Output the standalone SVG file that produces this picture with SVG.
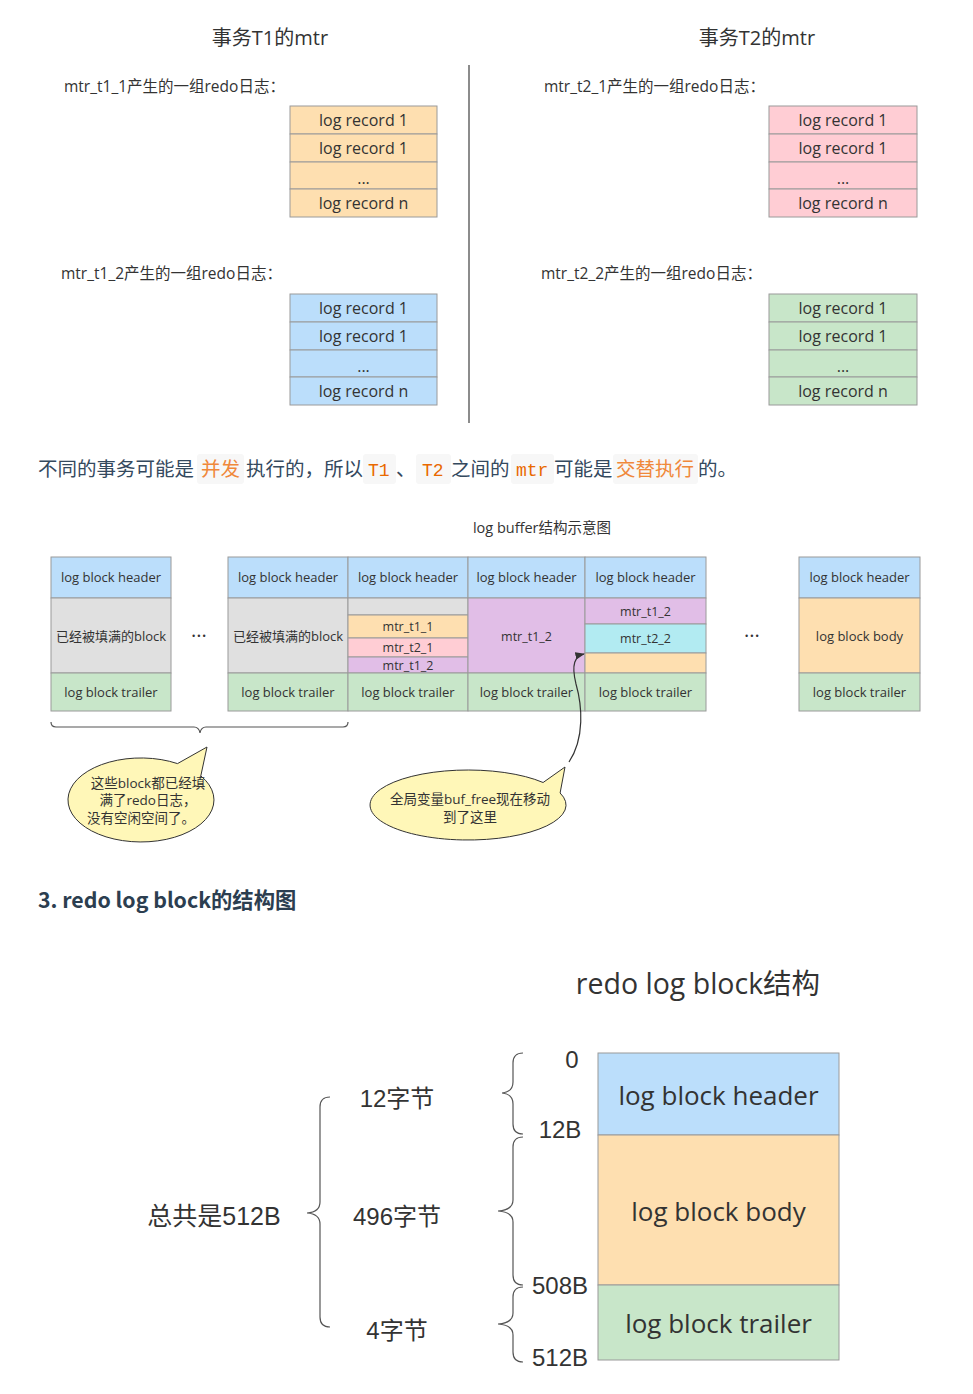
<svg xmlns="http://www.w3.org/2000/svg" width="973" height="1394" viewBox="0 0 973 1394">
<style>
.f{font-family:"Open Sans","Noto Sans CJK SC",sans-serif;fill:#333}
.h{font-family:"Liberation Sans","Noto Sans CJK SC",sans-serif;fill:#333}
.c{text-anchor:middle}
.s{stroke:#9a9a9a;stroke-width:1}
.or{fill:#fedfb0}.pk{fill:#ffcdd4}.bl{fill:#bbdefb}.gr{fill:#c8e6c9}.gy{fill:#e0e0e0}.pu{fill:#e1bee7}.cy{fill:#b2ebf2}
.rec{font-size:16px}
.blk{font-size:13px}
.br{fill:none;stroke:#555;stroke-width:1.2}
.code{fill:#f7f7f7}
.cn{font-family:"Noto Sans CJK SC",sans-serif;font-size:19.5px;fill:#34495e}
.mono{font-family:"Liberation Mono","DejaVu Sans Mono",monospace;font-size:18px;fill:#e96900}
.oc{fill:#f0883a}
.sub{font-size:15.5px}
</style>
<defs>
<marker id="ah" viewBox="0 0 10 10" refX="9" refY="5" markerWidth="8" markerHeight="8" orient="auto">
<path d="M0,1 L10,5 L0,9 Z" fill="#333"/>
</marker>
</defs>
<rect width="973" height="1394" fill="#fff"/>

<text class="f c" x="270" y="45" font-size="20">事务T1的mtr</text>
<text class="f c" x="757" y="45" font-size="20">事务T2的mtr</text>
<line x1="469" y1="65" x2="469" y2="423" stroke="#666" stroke-width="1.5"/>

<g id="t1_1">
<text class="f sub" x="64" y="92">mtr_t1_1产生的一组redo日志：</text>
<rect class="or s" x="290" y="106" width="147" height="28"/>
<rect class="or s" x="290" y="134" width="147" height="28"/>
<rect class="or s" x="290" y="162" width="147" height="27"/>
<rect class="or s" x="290" y="189" width="147" height="28"/>
<text class="f c rec" x="363.5" y="126">log record 1</text>
<text class="f c rec" x="363.5" y="154">log record 1</text>
<text class="f c rec" x="363.5" y="184">...</text>
<text class="f c rec" x="363.5" y="209">log record n</text>
</g>
<g id="t1_2">
<text class="f sub" x="61" y="279">mtr_t1_2产生的一组redo日志：</text>
<rect class="bl s" x="290" y="294" width="147" height="28"/>
<rect class="bl s" x="290" y="322" width="147" height="28"/>
<rect class="bl s" x="290" y="350" width="147" height="27"/>
<rect class="bl s" x="290" y="377" width="147" height="28"/>
<text class="f c rec" x="363.5" y="314">log record 1</text>
<text class="f c rec" x="363.5" y="342">log record 1</text>
<text class="f c rec" x="363.5" y="372">...</text>
<text class="f c rec" x="363.5" y="397">log record n</text>
</g>
<g id="t2_1">
<text class="f sub" x="544" y="92">mtr_t2_1产生的一组redo日志：</text>
<rect class="pk s" x="769" y="106" width="148" height="28"/>
<rect class="pk s" x="769" y="134" width="148" height="28"/>
<rect class="pk s" x="769" y="162" width="148" height="27"/>
<rect class="pk s" x="769" y="189" width="148" height="28"/>
<text class="f c rec" x="843" y="126">log record 1</text>
<text class="f c rec" x="843" y="154">log record 1</text>
<text class="f c rec" x="843" y="184">...</text>
<text class="f c rec" x="843" y="209">log record n</text>
</g>
<g id="t2_2">
<text class="f sub" x="541" y="279">mtr_t2_2产生的一组redo日志：</text>
<rect class="gr s" x="769" y="294" width="148" height="28"/>
<rect class="gr s" x="769" y="322" width="148" height="28"/>
<rect class="gr s" x="769" y="350" width="148" height="27"/>
<rect class="gr s" x="769" y="377" width="148" height="28"/>
<text class="f c rec" x="843" y="314">log record 1</text>
<text class="f c rec" x="843" y="342">log record 1</text>
<text class="f c rec" x="843" y="372">...</text>
<text class="f c rec" x="843" y="397">log record n</text>
</g>

<g id="sentence">
<rect class="code" x="197" y="454" width="47" height="30" rx="3"/>
<rect class="code" x="363" y="454" width="33" height="30" rx="3"/>
<rect class="code" x="416" y="454" width="35" height="30" rx="3"/>
<rect class="code" x="511" y="454" width="43" height="30" rx="3"/>
<rect class="code" x="613" y="454" width="85" height="30" rx="3"/>
<text class="cn" x="38" y="476">不同的事务可能是</text>
<text class="cn oc" x="201" y="476">并发</text>
<text class="cn" x="246" y="476">执行的，所以</text>
<text class="mono" x="368" y="476">T1</text>
<text class="cn" x="396" y="476">、</text>
<text class="mono" x="422" y="476">T2</text>
<text class="cn" x="451" y="476">之间的</text>
<text class="mono" x="516" y="476">mtr</text>
<text class="cn" x="554" y="476">可能是</text>
<text class="cn oc" x="616" y="476">交替执行</text>
<text class="cn" x="698" y="476">的。</text>
</g>

<text class="f c" x="542" y="533" font-size="14.5">log buffer结构示意图</text>

<g id="block1">
<rect class="bl s" x="51" y="557" width="120" height="41"/>
<rect class="gy s" x="51" y="598" width="120" height="75"/>
<rect class="gr s" x="51" y="673" width="120" height="38"/>
<text class="f c blk" x="111" y="582">log block header</text>
<text class="f c blk" x="111" y="641">已经被填满的block</text>
<text class="f c blk" x="111" y="697">log block trailer</text>
</g>
<text class="f c" x="199" y="643" font-size="20">···</text>
<g id="block2">
<rect class="bl s" x="228" y="557" width="120" height="41"/>
<rect class="gy s" x="228" y="598" width="120" height="75"/>
<rect class="gr s" x="228" y="673" width="120" height="38"/>
<text class="f c blk" x="288" y="582">log block header</text>
<text class="f c blk" x="288" y="641">已经被填满的block</text>
<text class="f c blk" x="288" y="697">log block trailer</text>
</g>
<g id="block3">
<rect class="bl s" x="348" y="557" width="120" height="41"/>
<rect class="gy s" x="348" y="598" width="120" height="17"/>
<rect class="or s" x="348" y="615" width="120" height="23"/>
<rect class="pk s" x="348" y="638" width="120" height="19"/>
<rect class="pu s" x="348" y="657" width="120" height="16"/>
<rect class="gr s" x="348" y="673" width="120" height="38"/>
<text class="f c blk" x="408" y="582">log block header</text>
<text class="f c" x="408" y="631" font-size="12.5">mtr_t1_1</text>
<text class="f c" x="408" y="652" font-size="12.5">mtr_t2_1</text>
<text class="f c" x="408" y="669.5" font-size="12.5">mtr_t1_2</text>
<text class="f c blk" x="408" y="697">log block trailer</text>
</g>
<g id="block4">
<rect class="bl s" x="468" y="557" width="117" height="41"/>
<rect class="pu s" x="468" y="598" width="117" height="75"/>
<rect class="gr s" x="468" y="673" width="117" height="38"/>
<text class="f c blk" x="526.5" y="582">log block header</text>
<text class="f c" x="526.5" y="641" font-size="12.5">mtr_t1_2</text>
<text class="f c blk" x="526.5" y="697">log block trailer</text>
</g>
<g id="block5">
<rect class="bl s" x="585" y="557" width="121" height="41"/>
<rect class="pu s" x="585" y="598" width="121" height="26"/>
<rect class="cy s" x="585" y="624" width="121" height="29"/>
<rect class="or s" x="585" y="653" width="121" height="20"/>
<rect class="gr s" x="585" y="673" width="121" height="38"/>
<text class="f c blk" x="645.5" y="582">log block header</text>
<text class="f c" x="645.5" y="615.5" font-size="12.5">mtr_t1_2</text>
<text class="f c" x="645.5" y="643" font-size="12.5">mtr_t2_2</text>
<text class="f c blk" x="645.5" y="697">log block trailer</text>
</g>
<text class="f c" x="752" y="643" font-size="20">···</text>
<g id="block6">
<rect class="bl s" x="799" y="557" width="121" height="41"/>
<rect class="or s" x="799" y="598" width="121" height="75"/>
<rect class="gr s" x="799" y="673" width="121" height="38"/>
<text class="f c blk" x="859.5" y="582">log block header</text>
<text class="f c blk" x="859.5" y="641">log block body</text>
<text class="f c blk" x="859.5" y="697">log block trailer</text>
</g>

<g id="callout1">
<path d="M177.5,763.6 L207,747 L200.8,775.9 A73,42 0 1 1 177.5,763.6 Z" fill="#fff7b8" stroke="#333" stroke-width="1"/>
<text class="f c" x="148" y="788" font-size="13.5">这些block都已经填</text>
<text class="f c" x="148" y="805" font-size="13.5">满了redo日志，</text>
<text class="f c" x="141" y="823" font-size="13.5">没有空闲空间了。</text>
</g>
<g id="callout2">
<path d="M543.1,782.5 L565,767 L560.1,793 A98,35 0 1 1 543.1,782.5 Z" fill="#fff7b8" stroke="#333" stroke-width="1"/>
<text class="f c" x="470" y="804" font-size="13.5">全局变量buf_free现在移动</text>
<text class="f c" x="470" y="822" font-size="13.5">到了这里</text>
</g>

<g id="connectors">
<path class="br" d="M51,722 Q51,727 56,727 L194,727 Q199,727 200,733 Q201,727 206,727 L343,727 Q348,727 348,722"/>
<path d="M569,762 C585,738 582,705 576,684 C571,664 575,656 584,654" fill="none" stroke="#333" stroke-width="1.2" marker-end="url(#ah)"/>
<path class="br" d="M523,1053 Q513,1053 513,1063 L513,1082 Q513,1092 502,1093 Q513,1094 513,1104 L513,1124 Q513,1134 523,1134"/>
<path class="br" d="M523,1137 Q513,1137 513,1147 L513,1200 Q513,1210 498,1211 Q513,1212 513,1222 L513,1275 Q513,1285 523,1285"/>
<path class="br" d="M523,1287 Q513,1287 513,1297 L513,1313 Q513,1323 498,1324 Q513,1325 513,1335 L513,1352 Q513,1362 523,1362"/>
<path class="br" d="M330,1097 Q320,1097 320,1107 L320,1202 Q320,1212 307,1213 Q320,1214 320,1224 L320,1317 Q320,1327 330,1327"/>
</g>

<text x="38" y="908" font-family="Noto Sans CJK SC, sans-serif" font-size="21.3" font-weight="bold" fill="#2c3e50">3. redo log block的结构图</text>

<text class="f c" x="698" y="994" font-size="28.5">redo log block结构</text>

<g id="bigblock">
<rect class="bl s" x="598" y="1053" width="241" height="82" stroke-width="1.5"/>
<rect class="or s" x="598" y="1135" width="241" height="150" stroke-width="1.5"/>
<rect class="gr s" x="598" y="1285" width="241" height="75" stroke-width="1.5"/>
<text class="f c" x="718.5" y="1105" font-size="26">log block header</text>
<text class="f c" x="718.5" y="1221" font-size="26">log block body</text>
<text class="f c" x="718.5" y="1333" font-size="26">log block trailer</text>
</g>

<g id="offsets">
<text class="h c" x="572" y="1068" font-size="24">0</text>
<text class="h c" x="560" y="1138" font-size="24">12B</text>
<text class="h c" x="560" y="1294" font-size="24">508B</text>
<text class="h c" x="560" y="1366" font-size="24">512B</text>
</g>
<g id="sizes">
<text class="h c" x="397" y="1107" font-size="24">12字节</text>
<text class="h c" x="397" y="1225" font-size="24">496字节</text>
<text class="h c" x="397" y="1339" font-size="24">4字节</text>
<text class="h c" x="214" y="1225" font-size="25">总共是512B</text>
</g>
</svg>
